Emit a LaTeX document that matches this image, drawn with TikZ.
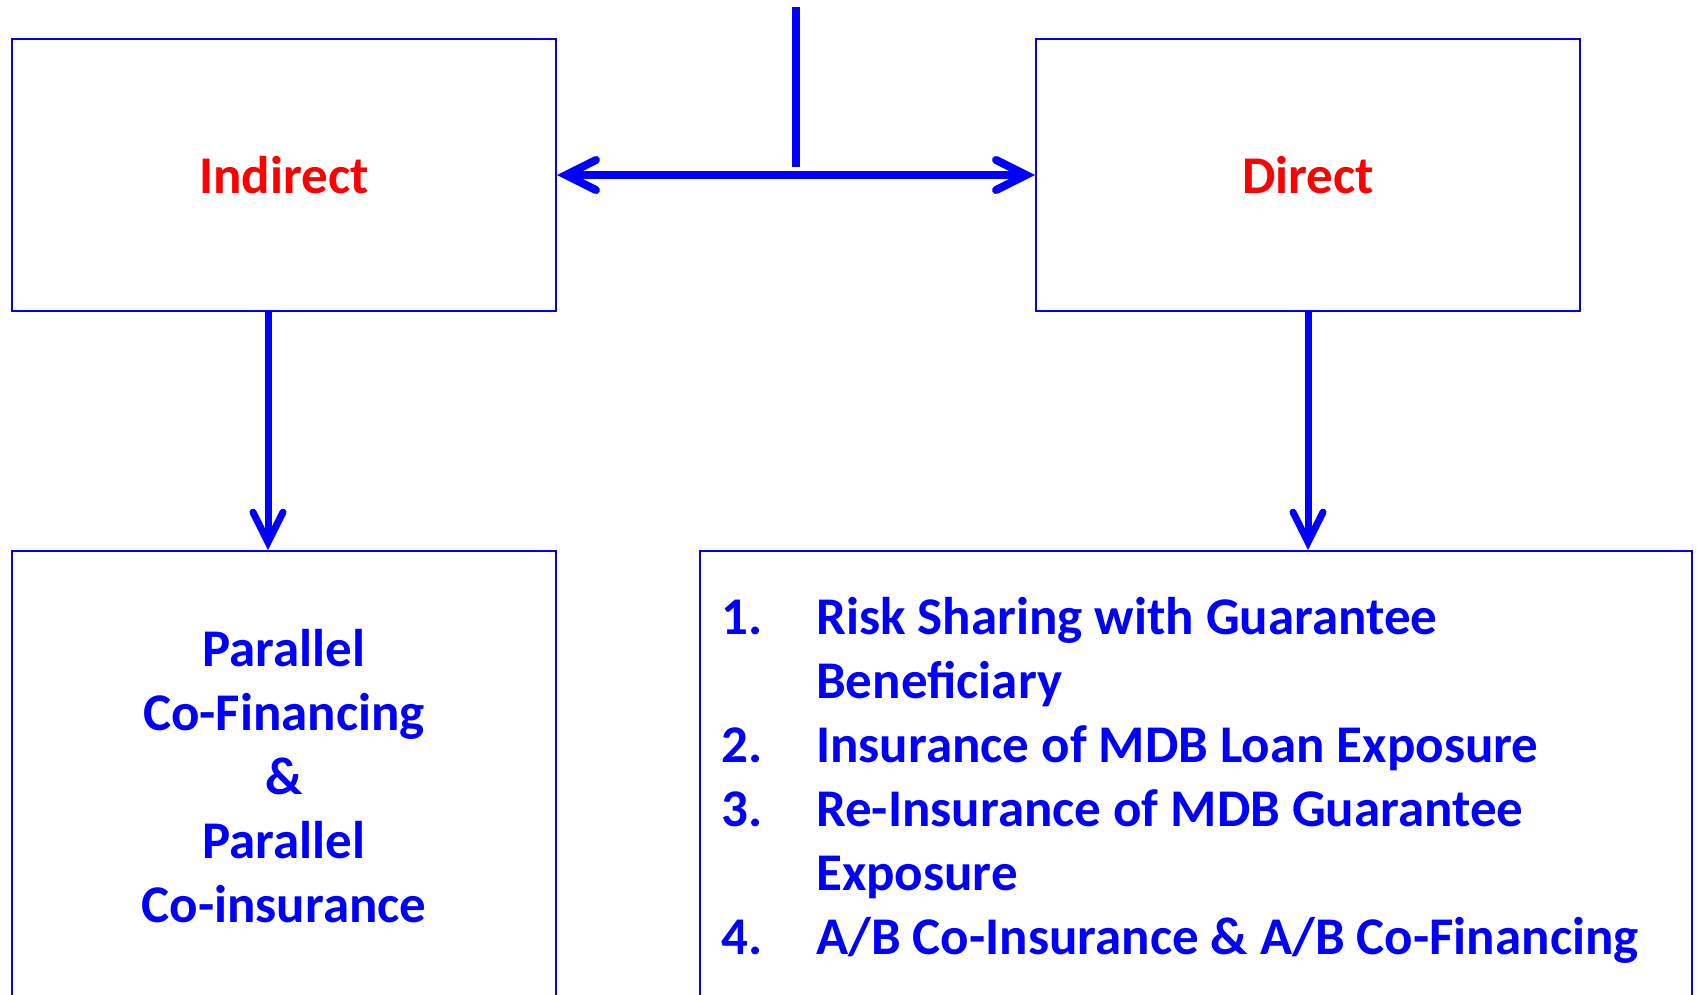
\documentclass[tikz,border=0pt]{standalone}
\usepackage{fontspec}
\setmainfont{Carlito}
\usetikzlibrary{arrows.meta}
\definecolor{pureblue}{RGB}{0,0,255}
\definecolor{purered}{RGB}{255,0,0}
\begin{document}
\begin{tikzpicture}[x=1pt, y=-1pt,
    box/.style={rectangle, draw=pureblue, line width=2pt, inner sep=0pt},
    arr/.style={draw=pureblue, line width=7pt, -{Straight Barb[length=30pt, width=30pt, line cap=round]}},
    every node/.style={font=\bfseries\fontsize{53}{64}\selectfont}]
    \useasboundingbox (0,0) rectangle (1697,994);
    \clip (0,0) rectangle (1697,994);

    % Nodes
    \node[box, minimum width=544pt, minimum height=272pt, text=purered] (ind) at (284,175) {Indirect};
    \node[box, minimum width=544pt, minimum height=272pt, text=purered] (dir) at (1308,175) {Direct};
    \node[box, minimum width=544pt, minimum height=450pt, text=pureblue, align=center] (par) at (284,776)
        {Parallel\\Co-Financing\\\&\\Parallel\\Co-insurance};
    \node[box, minimum width=992pt, minimum height=450pt] (lst) at (1196,776) {};
    \node[text=pureblue, align=left, anchor=west, inner sep=0pt] (items) at (721,780)
        {\makebox[95pt][l]{1.}Risk Sharing with Guarantee\\
         \makebox[95pt][l]{}Beneficiary\\
         \makebox[95pt][l]{2.}Insurance of MDB Loan Exposure\\
         \makebox[95pt][l]{3.}Re-Insurance of MDB Guarantee\\
         \makebox[95pt][l]{}Exposure\\
         \makebox[95pt][l]{4.}A/B Co-Insurance \& A/B Co-Financing};
    \coordinate (top) at (796,7);
    \coordinate (join) at (796,167);

    % Edges
    \draw[pureblue, line width=8pt] (top) -- (join);
    \draw[arr, {Straight Barb[length=30pt, width=30pt, line cap=round]}-{Straight Barb[length=30pt, width=30pt, line cap=round]}, line width=8pt] (ind.east) -- (dir.west);
    \draw[arr] ([xshift=-16pt]ind.south) -- ([xshift=-16pt]par.north);
    \draw[arr] (dir.south) -- (dir.south |- lst.north);
\end{tikzpicture}
\end{document}
